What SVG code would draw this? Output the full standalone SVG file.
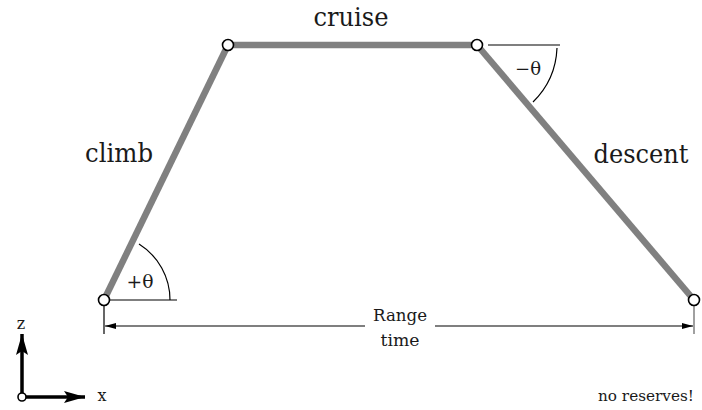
<svg xmlns="http://www.w3.org/2000/svg" width="702" height="410" viewBox="0 0 702 410">
<style>
.path{stroke:#808080;stroke-width:6.5;fill:none;stroke-linecap:butt}
.node{fill:#fff;stroke:#000;stroke-width:1.6}
.thin{stroke:#000;stroke-width:1.2;fill:none}
.lbl{fill:#1a1a1a;font-family:'DejaVu Serif',serif}
</style>
<defs>
<marker id="dimArr" markerWidth="12" markerHeight="8" refX="11" refY="4" orient="auto-start-reverse" markerUnits="userSpaceOnUse">
<path d="M0,1 L11,4 L0,7 Z" fill="#000"/>
</marker>
<marker id="axArr" markerWidth="22" markerHeight="12" refX="21" refY="6" orient="auto" markerUnits="userSpaceOnUse">
<path d="M0,0 L21,6 L0,12 L4,6 Z" fill="#000"/>
</marker>
</defs>
<rect width="702" height="410" fill="#fff"/>
<g id="connectors">
<line class="path" x1="104" y1="300" x2="228" y2="45"/>
<line class="path" x1="228" y1="45" x2="477" y2="45"/>
<line class="path" x1="477" y1="45" x2="694" y2="300"/>
</g>
<g id="angle-climb">
<line class="thin" x1="109" y1="300" x2="177" y2="300"/>
<path class="thin" d="M170,300 A66,66 0 0 0 139,244"/>
<text class="lbl" x="140" y="288" font-size="18" text-anchor="middle" textLength="27" lengthAdjust="spacingAndGlyphs">+θ</text>
</g>
<g id="angle-descent">
<line class="thin" x1="488" y1="45" x2="560" y2="45"/>
<path class="thin" d="M557,48 A80,80 0 0 1 533,102"/>
<text class="lbl" x="528" y="75" font-size="18" text-anchor="middle" textLength="26" lengthAdjust="spacingAndGlyphs">−θ</text>
</g>
<g id="dimension">
<line class="thin" x1="104" y1="305" x2="104" y2="334"/>
<line x1="694" y1="305" x2="694" y2="334" stroke="#808080" stroke-width="1.5"/>
<line class="thin" x1="365" y1="326" x2="105" y2="326" marker-end="url(#dimArr)"/>
<line class="thin" x1="435" y1="326" x2="693" y2="326" marker-end="url(#dimArr)"/>
<text class="lbl" x="400" y="321" font-size="17" text-anchor="middle" textLength="54" lengthAdjust="spacingAndGlyphs">Range</text>
<text class="lbl" x="400" y="346" font-size="17" text-anchor="middle" textLength="39" lengthAdjust="spacingAndGlyphs">time</text>
</g>
<g id="node-start"><circle class="node" cx="104" cy="300" r="5.5"/></g>
<g id="node-toc"><circle class="node" cx="228" cy="45" r="5.5"/></g>
<g id="node-tod"><circle class="node" cx="477" cy="45" r="5.5"/></g>
<g id="node-end"><circle class="node" cx="694" cy="300" r="5.5"/></g>
<g id="labels">
<text class="lbl" x="119" y="162" font-size="26" text-anchor="middle" textLength="68" lengthAdjust="spacingAndGlyphs">climb</text>
<text class="lbl" x="351" y="26" font-size="26" text-anchor="middle" textLength="75" lengthAdjust="spacingAndGlyphs">cruise</text>
<text class="lbl" x="641" y="163" font-size="26" text-anchor="middle" textLength="95" lengthAdjust="spacingAndGlyphs">descent</text>
<text class="lbl" x="694" y="401" font-size="14" text-anchor="end" textLength="96" lengthAdjust="spacingAndGlyphs">no reserves!</text>
</g>
<g id="axes">
<line x1="22" y1="397" x2="22" y2="334" stroke="#000" stroke-width="3.5" marker-end="url(#axArr)"/>
<line x1="22" y1="397" x2="85" y2="397" stroke="#000" stroke-width="3.5" marker-end="url(#axArr)"/>
<circle cx="22" cy="397" r="4" fill="#fff" stroke="#000" stroke-width="1.6"/>
<text class="lbl" x="21" y="329" font-size="16" text-anchor="middle">z</text>
<text class="lbl" x="102" y="401" font-size="16" text-anchor="middle">x</text>
</g>
</svg>
